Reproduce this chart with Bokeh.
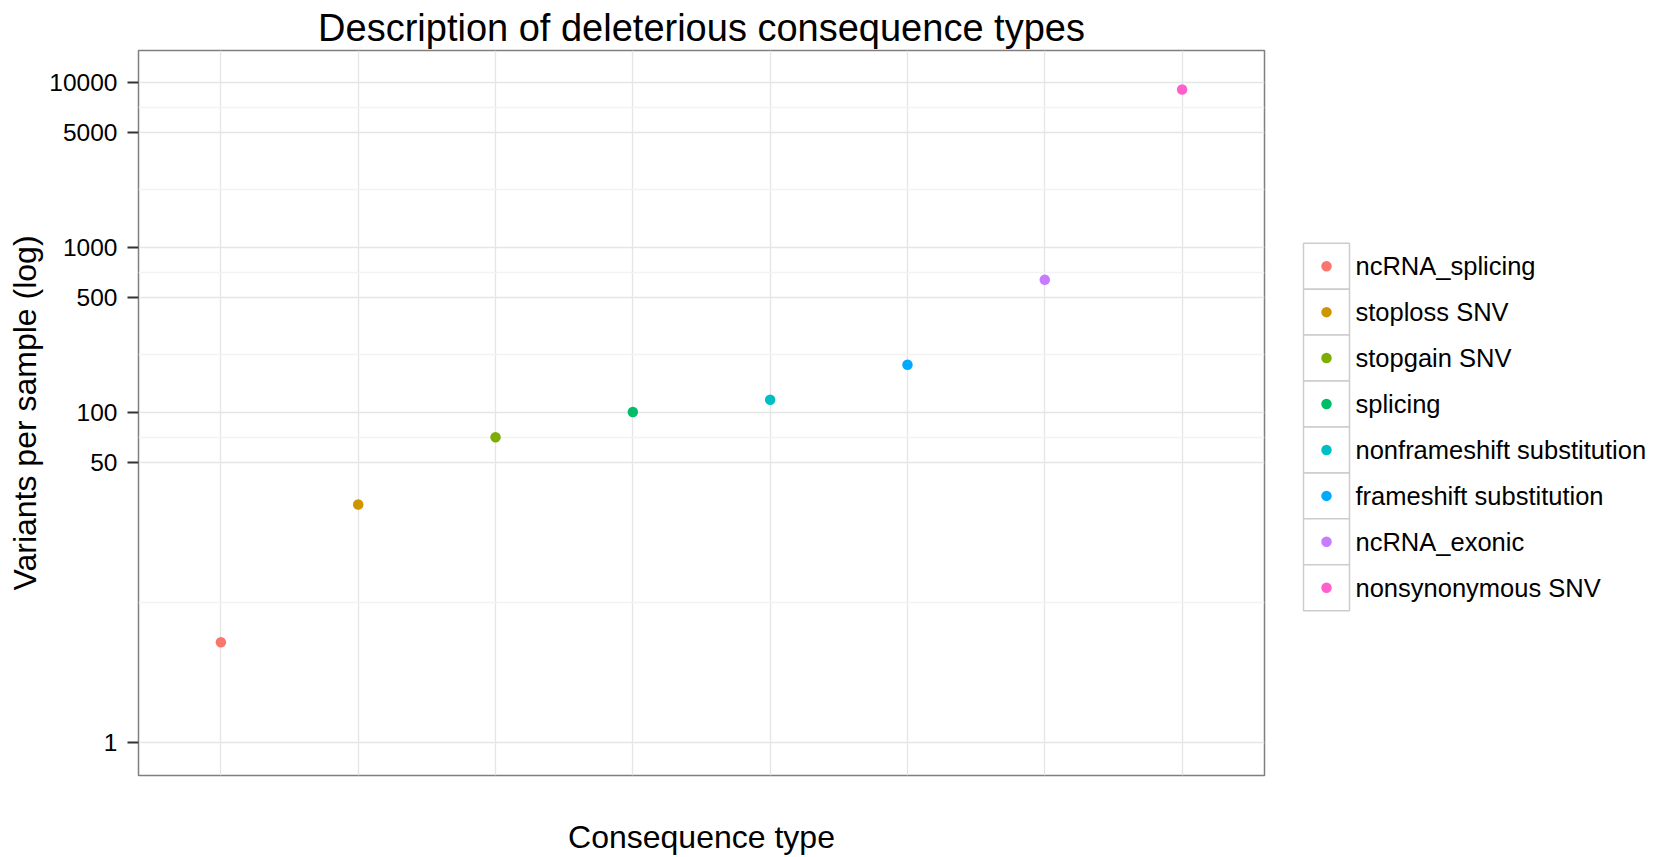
import math
from bokeh.plotting import figure
from bokeh.models import Range1d, FixedTicker, ColumnDataSource, PrintfTickFormatter
from bokeh.layouts import row
from bokeh.embed import file_html
from bokeh.resources import INLINE
from bokeh.core.properties import value

# ---- data ----
categories = ["ncRNA_splicing", "stoploss SNV", "stopgain SNV", "splicing",
              "nonframeshift substitution", "frameshift substitution",
              "ncRNA_exonic", "nonsynonymous SNV"]
variants = [4.05, 27.7, 70.9, 100.8, 119.7, 195, 638, 9100]
colors = ["#F8766D", "#CD9600", "#7CAE00", "#00BE67",
          "#00BFC4", "#00A9FF", "#C77CFF", "#FF61CC"]
y_ticks = [1, 50, 100, 500, 1000, 5000, 10000]
title_text = "Description of deleterious consequence types"
x_title = "Consequence type"
y_title = "Variants per sample (log)"

FONT = "Liberation Sans"

# ---- layout constants ----
TOTAL_W = 1657
W, H = 1280, 857
ML, MR, MT = 138, 16, 50
FH = 726
MB = H - MT - FH

xpos = list(range(1, len(categories) + 1))
log_t = [math.log10(t) for t in y_ticks]
minor = [10 ** ((a + b) / 2) for a, b in zip(log_t[:-1], log_t[1:])]

src = ColumnDataSource(dict(x=xpos, y=variants, color=colors, cat=categories))

p = figure(width=W, height=H,
           x_range=Range1d(0.4, len(categories) + 0.6),
           y_range=Range1d(10 ** -0.2, 10 ** 4.195),
           y_axis_type="log", output_backend="svg", toolbar_location=None,
           min_border_left=ML, min_border_right=MR,
           min_border_top=MT, min_border_bottom=MB,
           title=title_text)
p.background_fill_color = "white"
p.border_fill_color = "white"
p.outline_line_color = "#7F7F7F"
p.outline_line_width = 1.5

p.title.text_font = FONT
p.title.text_font_size = "38px"
p.title.text_font_style = "normal"
p.title.align = "center"
p.title.standoff = 3
p.title.text_color = "black"

xax = p.xaxis[0]
xax.ticker = FixedTicker(ticks=[])
xax.axis_line_color = None
xax.major_tick_line_color = None
xax.minor_tick_line_color = None
xax.major_tick_out = 0
xax.minor_tick_out = 0
xax.axis_label = x_title
xax.axis_label_text_font = FONT
xax.axis_label_text_font_size = "32px"
xax.axis_label_text_font_style = "normal"
xax.axis_label_text_color = "black"
xax.axis_label_standoff = 43

p.xgrid.ticker = FixedTicker(ticks=xpos)
p.xgrid.grid_line_color = "#E5E5E5"
p.xgrid.grid_line_width = 1.3

yax = p.yaxis[0]
yax.ticker = FixedTicker(ticks=y_ticks, minor_ticks=minor)
yax.formatter = PrintfTickFormatter(format="%d")
yax.axis_line_color = None
yax.major_tick_in = 0
yax.major_tick_out = 11
yax.major_tick_line_color = "#333333"
yax.major_tick_line_width = 2
yax.minor_tick_line_color = None
yax.minor_tick_out = 0
yax.major_label_text_font = FONT
yax.major_label_text_font_size = "24.5px"
yax.major_label_text_color = "black"
yax.major_label_standoff = 10
yax.axis_label = y_title
yax.axis_label_text_font = FONT
yax.axis_label_text_font_size = "32px"
yax.axis_label_text_font_style = "normal"
yax.axis_label_text_color = "black"
yax.axis_label_standoff = 3

p.ygrid.ticker = FixedTicker(ticks=y_ticks, minor_ticks=minor)
p.ygrid.grid_line_color = "#E5E5E5"
p.ygrid.grid_line_width = 1.3
p.ygrid.minor_grid_line_color = "#F3F3F3"
p.ygrid.minor_grid_line_width = 1.3

p.scatter(x="x", y="y", size=10.5, fill_color="color", line_color=None, source=src)

# ---- legend panel (frame aligned with the main frame; 1 data unit = 1 px) ----
LW = TOTAL_W - W
lg = figure(width=LW, height=H, x_range=Range1d(0, LW), y_range=Range1d(MT + FH, MT),
            output_backend="svg", toolbar_location=None,
            min_border_left=0, min_border_right=0,
            min_border_top=MT, min_border_bottom=MB,
            x_axis_location=None, y_axis_location=None)
lg.grid.visible = False
lg.outline_line_color = None
lg.background_fill_color = "white"
lg.border_fill_color = "white"

key_top, key_h, key_left, key_w = 243, 46, 23, 46
ky = [key_top + key_h * (i + 0.5) for i in range(len(categories))]
kx = [key_left + key_w / 2] * len(categories)
lsrc = ColumnDataSource(dict(x=kx, y=ky, color=colors, cat=categories,
                             tx=[key_left + key_w + 6] * len(categories)))
lg.rect(x="x", y="y", width=key_w, height=key_h, fill_color="white",
        line_color="#CCCCCC", line_width=1.5, source=lsrc)
lg.scatter(x="x", y="y", size=10.5, fill_color="color", line_color=None, source=lsrc)
lg.text(x="tx", y="y", text="cat", text_font=value(FONT), text_font_size="25.5px",
        text_baseline="middle", text_align="left", text_color="black", source=lsrc)

layout = row(p, lg)
open("out.html", "w").write(file_html(layout, INLINE))
